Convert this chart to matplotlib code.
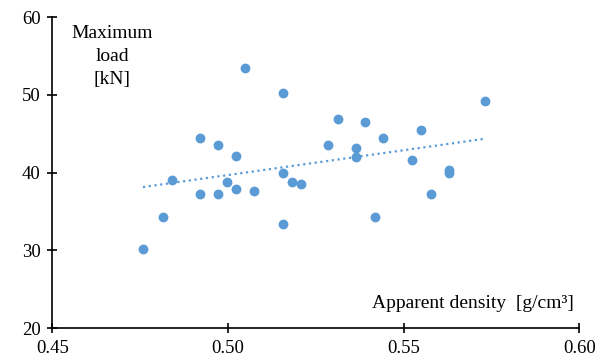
import matplotlib
matplotlib.use("Agg")
import matplotlib.pyplot as plt
import numpy as np

density = [0.4758, 0.4815, 0.4841, 0.4919, 0.4919, 0.4972, 0.4972, 0.5023, 0.4997,
           0.5023, 0.5049, 0.5075, 0.5157, 0.5157, 0.5157, 0.5183, 0.5209, 0.5286,
           0.5312, 0.5365, 0.5365, 0.5391, 0.5442, 0.5418, 0.5525, 0.5550, 0.5577,
           0.5628, 0.5628, 0.5732]
load = [30.2, 34.3, 39.1, 44.5, 37.3, 43.6, 37.3, 42.1, 38.8,
        37.9, 53.5, 37.6, 50.2, 40.0, 33.4, 38.8, 38.6, 43.5,
        46.9, 43.2, 42.0, 46.5, 44.5, 34.3, 41.6, 45.5, 37.3,
        40.0, 40.3, 49.2]

xticks = [0.45, 0.50, 0.55, 0.60]
yticks = [20, 30, 40, 50, 60]

color = "#5B9BD5"
plt.rcParams['font.family'] = ['Liberation Serif', 'DejaVu Serif']

fig = plt.figure(figsize=(5.98, 3.63), dpi=100)
ax = fig.add_axes([0.0875, 0.0964, 0.9687 - 0.0875, 0.9523 - 0.0964])

x = np.array(density)
y = np.array(load)
ax.scatter(x, y, s=50, color=color, zorder=3, linewidths=0)

k, b = np.polyfit(x, y, 1)
xs = np.array([x.min(), x.max()])
ax.plot(xs, k * xs + b, color=color, linestyle=(0, (1, 1.6)), linewidth=1.6,
        dash_capstyle='butt', zorder=2)

ax.set_xlim(0.45, 0.60)
ax.set_ylim(20, 60)
ax.set_xticks(xticks)
ax.set_xticklabels([f"{t:.2f}" for t in xticks])
ax.set_yticks(yticks)
ax.set_yticklabels([str(t) for t in yticks])

for s in ['top', 'right']:
    ax.spines[s].set_visible(False)
for s in ['left', 'bottom']:
    ax.spines[s].set_linewidth(1.2)
ax.tick_params(direction='inout', length=7, width=1.2, labelsize=13.5, pad=5)

fig.text(112 / 598, 1 - 25 / 363, "Maximum\nload\n[kN]", ha='center', va='top',
         fontsize=14, linespacing=1.45)
fig.text(574 / 598, 1 - 308 / 363, "Apparent density  [g/cm³]", ha='right',
         va='baseline', fontsize=14)

fig.savefig("out.png", dpi=100)
